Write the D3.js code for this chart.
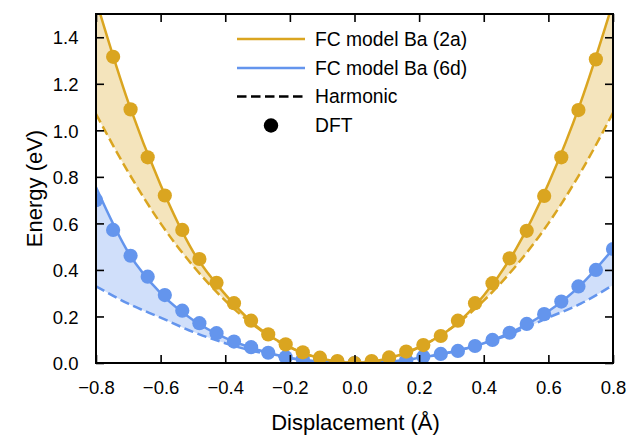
<!DOCTYPE html>
<html><head><meta charset="utf-8">
<script src="https://cdn.jsdelivr.net/npm/d3@7"></script>
<style>
body{margin:0;background:#fff}
svg{display:block}
text{font-family:"Liberation Sans",Arial,Helvetica,sans-serif;fill:#000}
</style>
</head><body>
<svg id="chart" width="638" height="435"></svg>
<script>
// ---- data ----
const curveX = [-0.8,-0.7,-0.6,-0.5,-0.4,-0.3,-0.2,-0.1,0,0.1,0.2,0.3,0.4,0.5,0.6,0.7,0.8];
const fc2a   = [1.56,1.12,0.765,0.48,0.295,0.155,0.068,0.018,0,0.018,0.068,0.15,0.29,0.49,0.77,1.12,1.55];
const harm2a = [1.07,0.82,0.60,0.418,0.268,0.15,0.067,0.017,0,0.017,0.067,0.15,0.268,0.418,0.60,0.82,1.075];
const fc6d   = [0.755,0.475,0.30,0.185,0.108,0.057,0.022,0.005,0,0.004,0.022,0.047,0.085,0.142,0.222,0.335,0.49];
const harm6d = [0.33,0.255,0.195,0.134,0.085,0.047,0.021,0.005,0,0.005,0.021,0.047,0.085,0.134,0.195,0.255,0.335];

const dftX2a = [-0.747,-0.693,-0.640,-0.587,-0.533,-0.480,-0.427,-0.373,-0.320,-0.267,-0.213,-0.160,-0.107,-0.053,0,
                0.053,0.107,0.160,0.213,0.267,0.320,0.373,0.427,0.480,0.533,0.587,0.640,0.693,0.747];
const dft2a  = [1.316,1.09,0.884,0.72,0.572,0.447,0.345,0.257,0.182,0.123,0.080,0.046,0.023,0.008,0,
                0.008,0.024,0.049,0.077,0.116,0.182,0.257,0.343,0.45,0.568,0.718,0.884,1.087,1.305];
const dftX6d = [-0.800,-0.747,-0.693,-0.640,-0.587,-0.533,-0.480,-0.427,-0.373,-0.320,-0.267,-0.213,-0.160,-0.107,-0.053,0,
                0.053,0.107,0.160,0.213,0.267,0.320,0.373,0.427,0.480,0.533,0.587,0.640,0.693,0.747,0.800];
const dft6d  = [0.70,0.572,0.461,0.371,0.292,0.225,0.171,0.128,0.092,0.068,0.044,0.025,0.016,0.010,0.005,0,
                0.004,0.007,0.012,0.027,0.039,0.052,0.073,0.099,0.13,0.168,0.21,0.264,0.329,0.40,0.49];

const xTicks = [-0.8,-0.6,-0.4,-0.2,0.0,0.2,0.4,0.6,0.8];
const yTicks = [0.0,0.2,0.4,0.6,0.8,1.0,1.2,1.4];
const legendLabels = ["FC model Ba (2a)","FC model Ba (6d)","Harmonic","DFT"];
const xLabel = "Displacement (Å)";
const yLabel = "Energy (eV)";

// ---- styles ----
const gold = "#DAA520", blue = "#6495ED";
const goldFill = "rgba(218,165,32,0.3)", blueFill = "rgba(100,149,237,0.3)";
const dash = "9.5,4.5";
const L = 96, R = 613, T = 14, B = 363;

const svg = d3.select("#chart");
const x = d3.scaleLinear().domain([-0.8,0.8]).range([L,R]);
const y = d3.scaleLinear().domain([0,1.5]).range([B,T]);

svg.append("defs").append("clipPath").attr("id","clip")
  .append("rect").attr("x",L).attr("y",T).attr("width",R-L).attr("height",B-T);

const plot = svg.append("g").attr("clip-path","url(#clip)");

const curve = d3.curveMonotoneX;
const area = (lo, hi) => d3.area().curve(curve)
  .x((d,i)=>x(curveX[i])).y0((d,i)=>y(lo[i])).y1((d,i)=>y(hi[i]))(curveX);
const line = (vals) => d3.line().curve(curve)
  .x((d,i)=>x(curveX[i])).y((d,i)=>y(vals[i]))(curveX);

// fills
plot.append("path").attr("d", area(harm6d, fc6d)).attr("fill", blueFill);
plot.append("path").attr("d", area(harm2a, fc2a)).attr("fill", goldFill);

function series(harm, fc, dx, dy, color){
  plot.append("path").attr("d", line(harm)).attr("fill","none")
    .attr("stroke",color).attr("stroke-width",2.5).attr("stroke-dasharray",dash);
  plot.append("path").attr("d", line(fc)).attr("fill","none")
    .attr("stroke",color).attr("stroke-width",2.5);
  plot.append("g").selectAll("circle").data(dy).join("circle")
    .attr("cx",(d,i)=>x(dx[i])).attr("cy",d=>y(d)).attr("r",7.1).attr("fill",color);
}
series(harm6d, fc6d, dftX6d, dft6d, blue);
series(harm2a, fc2a, dftX2a, dft2a, gold);

// axes (ticks inward on all four sides)
const fmt = d3.format(".1f");
const tickLen = 8;
const axB = svg.append("g").attr("transform",`translate(0,${B})`)
  .call(d3.axisBottom(x).tickValues(xTicks).tickSize(-tickLen).tickPadding(tickLen+9).tickFormat(fmt));
const axT = svg.append("g").attr("transform",`translate(0,${T})`)
  .call(d3.axisTop(x).tickValues(xTicks).tickSize(-tickLen).tickFormat(""));
const axL = svg.append("g").attr("transform",`translate(${L},0)`)
  .call(d3.axisLeft(y).tickValues(yTicks).tickSize(-tickLen).tickPadding(tickLen+9.5).tickFormat(fmt));
const axR = svg.append("g").attr("transform",`translate(${R},0)`)
  .call(d3.axisRight(y).tickValues(yTicks).tickSize(-tickLen).tickFormat(""));
[axB,axT,axL,axR].forEach(a=>{
  a.select(".domain").remove();
  a.selectAll(".tick line").attr("stroke","#000").attr("stroke-width",1.6);
  a.selectAll(".tick text").style("font-size","18.5px").attr("fill","#000");
});
axB.selectAll(".tick text").attr("dy",null).attr("y",null)
  .attr("transform","translate(0,30.5)");
axL.selectAll(".tick text").attr("dy","0.36em");

svg.append("rect").attr("x",L).attr("y",T).attr("width",R-L).attr("height",B-T)
  .attr("fill","none").attr("stroke","#000").attr("stroke-width",2);

// axis labels
svg.append("text").attr("x",(L+R)/2+1).attr("y",430).attr("text-anchor","middle")
  .style("font-size","22px").text(xLabel);
svg.append("text").attr("transform",`translate(41.5,${(T+B)/2}) rotate(-90)`)
  .attr("text-anchor","middle").style("font-size","22px").text(yLabel);

// legend
const lg = svg.append("g");
const rows = [39,68,96.5,125.5];
const lx0 = 237, lx1 = 305, tx = 315;
lg.append("line").attr("x1",lx0).attr("x2",lx1).attr("y1",rows[0]).attr("y2",rows[0]).attr("stroke",gold).attr("stroke-width",2.5);
lg.append("line").attr("x1",lx0).attr("x2",lx1).attr("y1",rows[1]).attr("y2",rows[1]).attr("stroke",blue).attr("stroke-width",2.5);
lg.append("line").attr("x1",lx0).attr("x2",lx1).attr("y1",rows[2]).attr("y2",rows[2]).attr("stroke","#000").attr("stroke-width",2.5).attr("stroke-dasharray",dash);
lg.append("circle").attr("cx",(lx0+lx1)/2).attr("cy",rows[3]).attr("r",7.2).attr("fill","#000");
legendLabels.forEach((t,i)=>{
  lg.append("text").attr("x",tx).attr("y",rows[i]).attr("dy","0.36em")
    .style("font-size","19.3px").text(t);
});
</script>
</body></html>
